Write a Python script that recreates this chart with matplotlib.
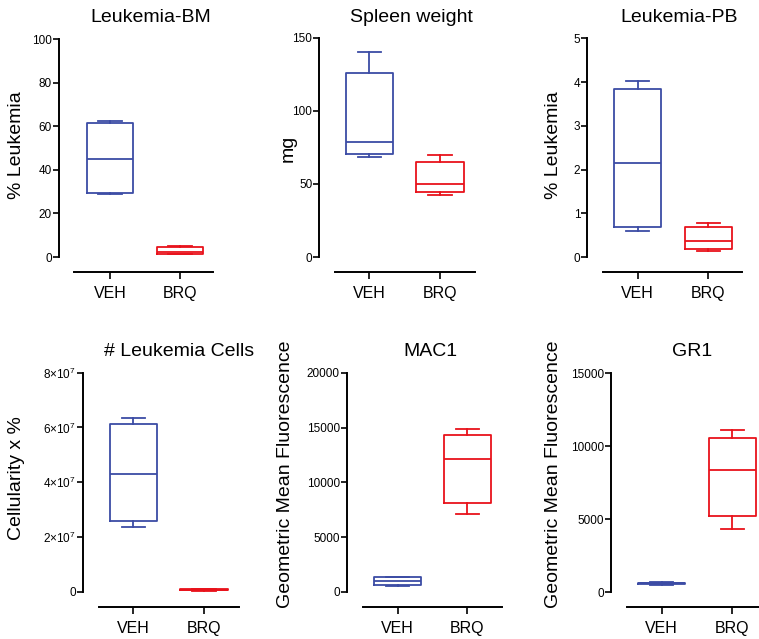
import matplotlib
matplotlib.use('Agg')
import matplotlib.pyplot as plt
from matplotlib.ticker import FixedLocator, FuncFormatter

plt.rcParams['font.family'] = ['Liberation Sans', 'DejaVu Sans']
plt.rcParams['mathtext.fontset'] = 'custom'
plt.rcParams['mathtext.rm'] = 'Liberation Sans'
plt.rcParams['mathtext.default'] = 'regular'

# --- Data: box stats (whislo, q1, med, q3, whishi) ---
groups = ['VEH', 'BRQ']

bm_veh = [29.0, 29.5, 45.0, 61.5, 62.3]
bm_brq = [1.3, 1.5, 2.4, 4.4, 5.0]

spleen_veh = [68.4, 70.4, 79.0, 126.0, 140.5]
spleen_brq = [42.2, 44.2, 50.0, 65.0, 69.8]

pb_veh = [0.60, 0.69, 2.15, 3.84, 4.02]
pb_brq = [0.14, 0.175, 0.36, 0.69, 0.78]

cells_veh = [2.37e7, 2.57e7, 4.30e7, 6.11e7, 6.35e7]
cells_brq = [0.04e7, 0.05e7, 0.07e7, 0.09e7, 0.10e7]

mac1_veh = [550, 640, 1000, 1340, 1370]
mac1_brq = [7080, 8115, 12130, 14350, 14860]

gr1_veh = [520, 560, 610, 660, 700]
gr1_brq = [4330, 5220, 8370, 10530, 11100]

titles = ['Leukemia-BM', 'Spleen weight', 'Leukemia-PB',
          '# Leukemia Cells', 'MAC1', 'GR1']
ylabels = ['% Leukemia', 'mg', '% Leukemia',
           'Cellularity x %', 'Geometric Mean Fluorescence',
           'Geometric Mean Fluorescence']
yticks = [[0, 20, 40, 60, 80, 100],
          [0, 50, 100, 150],
          [0, 1, 2, 3, 4, 5],
          [0, 2e7, 4e7, 6e7, 8e7],
          [0, 5000, 10000, 15000, 20000],
          [0, 5000, 10000, 15000]]
panel_data = [(bm_veh, bm_brq), (spleen_veh, spleen_brq), (pb_veh, pb_brq),
              (cells_veh, cells_brq), (mac1_veh, mac1_brq), (gr1_veh, gr1_brq)]

BLUE = '#3C4CA5'
RED = '#E8121B'

W, H = 759, 639
fig = plt.figure(figsize=(W / 100, H / 100), dpi=100)

# layout in pixels: axes left, right, top, bottom, first tick x, tick spacing, y-spine x, x-spine y
layout = [
    (74, 213, 39, 257, 110, 70.0, 59, 272),
    (335, 475, 37.7, 257, 369.3, 70.7, 319.3, 272),
    (603, 741.7, 38.3, 257, 637.7, 70.6, 587.3, 272),
    (99.3, 239.3, 372.7, 591.7, 133.3, 70.7, 82.7, 606.7),
    (363.3, 501.7, 372.7, 592, 397.7, 69.6, 346.7, 606.7),
    (626.7, 759, 373, 592.3, 661.7, 70.6, 610.7, 607.3),
]
title_pos = [(151, 21.5), (411, 21.5), (679, 21.5), (179, 356), (430, 356), (692, 356)]
ylabel_pos = [(17, 145), (288, 148), (553, 145), (17, 478), (285, 474), (553, 474)]

px2pt = 72 / 100


def to_stats(v, label):
    return dict(whislo=v[0], q1=v[1], med=v[2], q3=v[3], whishi=v[4], label=label)


def sci_fmt(val, pos):
    if val == 0:
        return '0'
    return '%d×10$^{7}$' % round(val / 1e7)


for i in range(6):
    left, right, top, bottom, t1, sp, yx, xy = layout[i]
    ax = fig.add_axes([left / W, 1 - bottom / H, (right - left) / W, (bottom - top) / H])
    ymax = yticks[i][-1]
    ax.set_ylim(0, ymax)
    ax.set_xlim(1 - (t1 - left) / sp, 1 + (right - t1) / sp)

    veh, brq = panel_data[i]
    for pos, vals, col in [(1, veh, BLUE), (2, brq, RED)]:
        ax.bxp([to_stats(vals, '')], positions=[pos], widths=0.67, capwidths=0.33,
               showfliers=False, manage_ticks=False,
               boxprops=dict(color=col, linewidth=1.3),
               whiskerprops=dict(color=col, linewidth=1.3),
               capprops=dict(color=col, linewidth=1.3),
               medianprops=dict(color=col, linewidth=1.3))

    for s in ['top', 'right']:
        ax.spines[s].set_visible(False)
    ax.spines['left'].set_position(('outward', (left - yx) * px2pt))
    ax.spines['bottom'].set_position(('outward', (xy - bottom) * px2pt))
    ax.spines['left'].set_linewidth(1.4)
    ax.spines['bottom'].set_linewidth(1.4)

    ax.yaxis.set_major_locator(FixedLocator(yticks[i]))
    if i == 3:
        ax.yaxis.set_major_formatter(FuncFormatter(sci_fmt))
    ax.set_xticks([1, 2])
    ax.set_xticklabels(groups)
    ax.tick_params(axis='y', direction='out', length=4, width=1.2, pad=1, labelsize=8.5)
    ax.tick_params(axis='x', direction='out', length=5, width=1.2, pad=5, labelsize=11.5)
    ax.patch.set_visible(False)

    fig.text(title_pos[i][0] / W, 1 - title_pos[i][1] / H, titles[i],
             ha='center', va='baseline', fontsize=14)
    fig.text(ylabel_pos[i][0] / W, 1 - ylabel_pos[i][1] / H, ylabels[i],
             ha='center', va='center', rotation=90, fontsize=14)

fig.savefig('out.png', dpi=100)
plt.close(fig)
